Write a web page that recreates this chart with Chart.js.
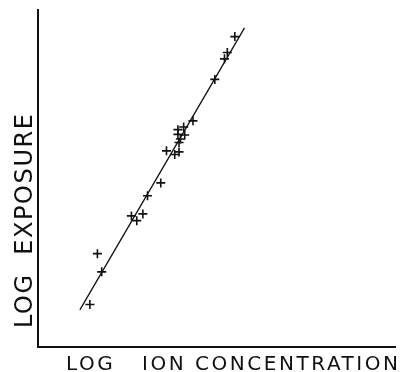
<!DOCTYPE html>
<html>
<head>
<meta charset="utf-8">
<script src="https://cdn.jsdelivr.net/npm/chart.js@4/dist/chart.umd.min.js"></script>
<style>
  html, body { margin: 0; padding: 0; background: #fff; }
  #wrap { width: 402px; height: 372px; position: relative; }
</style>
</head>
<body>
<div id="wrap"><canvas id="c"></canvas></div>
<script>
// measured points (arbitrary log units, axis 0..10)
const LOG_ION = [1.45, 1.66, 1.78, 2.61, 2.76, 2.93, 3.06, 3.43, 3.59, 3.82, 3.94,
                 3.94, 3.98, 3.91, 3.91, 4.07, 4.10, 4.33, 4.94, 5.21, 5.29, 5.50];
const LOG_EXP = [1.26, 2.77, 2.23, 3.89, 3.75, 3.95, 4.49, 4.87, 5.82, 5.71, 5.79,
                 6.07, 6.17, 6.31, 6.45, 6.53, 6.29, 6.71, 7.94, 8.55, 8.74, 9.21];
// fitted line ends
const FIT_X = [1.17, 5.77];
const FIT_Y = [1.10, 9.47];

const X_TITLE = 'LOG   ION CONCENTRATION';
const Y_TITLE = 'LOG  EXPOSURE';

// stretch letter spacing so the text covers len px
function spread(ctx, text, len) {
  ctx.letterSpacing = '0px';
  const w = ctx.measureText(text).width;
  const ls = (len - w) / (text.length - 1);
  ctx.letterSpacing = ls + 'px';
}

const titles = {
  id: 'titles',
  afterDraw(chart) {
    const ctx = chart.ctx;
    ctx.save();
    ctx.fillStyle = '#111';
    ctx.textBaseline = 'alphabetic';
    ctx.textAlign = 'left';

    ctx.font = '20px "DejaVu Sans"';
    spread(ctx, X_TITLE, 332);
    ctx.fillText(X_TITLE, 66, 370);

    ctx.translate(32, 328);
    ctx.rotate(-Math.PI / 2);
    ctx.font = '24px "DejaVu Sans"';
    spread(ctx, Y_TITLE, 214);
    ctx.fillText(Y_TITLE, 0, 0);
    ctx.restore();
  }
};

new Chart(document.getElementById('c'), {
  data: {
    datasets: [{
      type: 'scatter',
      data: LOG_ION.map((x, i) => ({x, y: LOG_EXP[i]})),
      pointStyle: 'cross',
      pointRadius: 4.5,
      pointBorderWidth: 1.6,
      borderColor: '#111',
      backgroundColor: '#111',
    }, {
      type: 'line',
      data: FIT_X.map((x, i) => ({x, y: FIT_Y[i]})),
      borderColor: '#111',
      borderWidth: 1.3,
      pointRadius: 0,
      fill: false,
    }]
  },
  options: {
    responsive: true,
    maintainAspectRatio: false,
    animation: false,
    events: [],
    layout: {padding: {left: 38, right: 4, top: 10, bottom: 25}},
    plugins: {legend: {display: false}, tooltip: {enabled: false}},
    scales: {
      x: {
        type: 'linear', min: 0, max: 10,
        grid: {display: false},
        ticks: {display: false},
        border: {display: true, color: '#111', width: 2},
        afterFit: s => { s.height = 0; }
      },
      y: {
        type: 'linear', min: 0, max: 10,
        grid: {display: false},
        ticks: {display: false},
        border: {display: true, color: '#111', width: 2},
        afterFit: s => { s.width = 0; }
      }
    }
  },
  plugins: [titles]
});
</script>
</body>
</html>
